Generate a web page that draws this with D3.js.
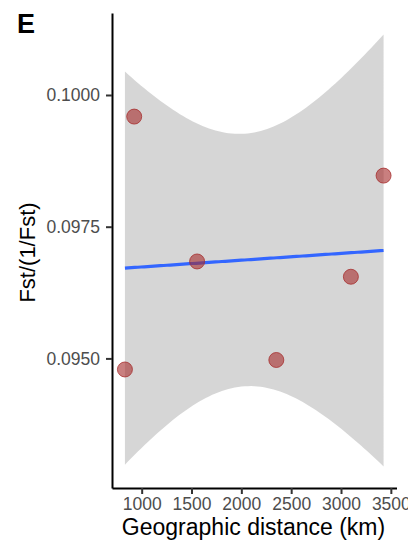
<!DOCTYPE html>
<html>
<head>
<meta charset="utf-8">
<script src="https://cdn.jsdelivr.net/npm/d3@7"></script>
<style>
  html, body { margin: 0; padding: 0; background: #fff; }
  svg { display: block; overflow: hidden; }
  text { font-family: "Liberation Sans", Arial, Helvetica, sans-serif; }
</style>
</head>
<body>
<svg id="chart" width="408" height="548"></svg>
<script>
// Geographic distance (km) between population pairs and their Fst/(1/Fst)
const distanceKm = [832, 925, 1556, 2351, 3099, 3427];
const fstRatio   = [0.09479, 0.09959, 0.09684, 0.09497, 0.09655, 0.09847];

const xTicks = [1000, 1500, 2000, 2500, 3000, 3500];
const yTicks = [0.0950, 0.0975, 0.1000];

const panelLabel = "E";
const xTitle = "Geographic distance (km)";
const yTitle = "Fst/(1/Fst)";

// 95% t critical value for n - 2 = 4 degrees of freedom
const tCrit = 2.776445;

// Ordinary least squares fit with confidence band for the mean
const n = distanceKm.length;
const mx = d3.mean(distanceKm), my = d3.mean(fstRatio);
const sxx = d3.sum(distanceKm, v => (v - mx) ** 2);
const sxy = d3.sum(distanceKm, (v, i) => (v - mx) * (fstRatio[i] - my));
const slope = sxy / sxx;
const intercept = my - slope * mx;
const predict = v => intercept + slope * v;
const sse = d3.sum(distanceKm, (v, i) => (fstRatio[i] - predict(v)) ** 2);
const sigma = Math.sqrt(sse / (n - 2));

const [xMin, xMax] = d3.extent(distanceKm);
const fit = d3.range(0, 81).map(k => {
  const xv = xMin + (xMax - xMin) * k / 80;
  const se = sigma * Math.sqrt(1 / n + (xv - mx) ** 2 / sxx);
  const yv = predict(xv);
  return { x: xv, y: yv, lo: yv - tCrit * se, hi: yv + tCrit * se };
});

// Domains padded by 5% on each side
const pad = ([a, b]) => { const r = b - a; return [a - 0.05 * r, b + 0.05 * r]; };
const yExt = [d3.min([...fit.map(d => d.lo), ...fstRatio]), d3.max([...fit.map(d => d.hi), ...fstRatio])];

const plot = { left: 112, right: 396.5, top: 13, bottom: 488 };

const x = d3.scaleLinear().domain(pad([xMin, xMax])).range([plot.left, plot.right]);
const y = d3.scaleLinear().domain(pad(yExt)).range([plot.bottom, plot.top]);

const svg = d3.select("#chart");

// confidence band
svg.append("path")
  .datum(fit)
  .attr("fill", "#999999")
  .attr("fill-opacity", 0.4)
  .attr("d", d3.area().x(d => x(d.x)).y0(d => y(d.lo)).y1(d => y(d.hi)));

// regression line
svg.append("path")
  .datum(fit)
  .attr("fill", "none")
  .attr("stroke", "#3366FF")
  .attr("stroke-width", 3.2)
  .attr("d", d3.line().x(d => x(d.x)).y(d => y(d.y)));

// points
svg.append("g")
  .selectAll("circle")
  .data(distanceKm.map((d, i) => ({ d, v: fstRatio[i] })))
  .join("circle")
  .attr("cx", p => x(p.d))
  .attr("cy", p => y(p.v))
  .attr("r", 7.5)
  .attr("fill", "#A52A2A")
  .attr("fill-opacity", 0.6)
  .attr("stroke", "#A52A2A")
  .attr("stroke-opacity", 0.75)
  .attr("stroke-width", 1);

// axes
const xAxis = svg.append("g")
  .attr("transform", `translate(0,${plot.bottom})`)
  .call(d3.axisBottom(x).tickValues(xTicks).tickFormat(d3.format("d")).tickSize(6).tickSizeOuter(0).tickPadding(4));
const yAxis = svg.append("g")
  .attr("transform", `translate(${plot.left},0)`)
  .call(d3.axisLeft(y).tickValues(yTicks).tickFormat(d3.format(".4f")).tickSize(6).tickSizeOuter(0).tickPadding(6));

[xAxis, yAxis].forEach(g => {
  g.select(".domain").attr("stroke", "#000").attr("stroke-width", 2);
  g.selectAll(".tick line").attr("stroke", "#333").attr("stroke-width", 2);
  g.selectAll(".tick text").attr("fill", "#4D4D4D").style("font-size", "17.5px");
});

// titles
svg.append("text")
  .attr("x", 253.5)
  .attr("y", 535)
  .attr("text-anchor", "middle")
  .style("font-size", "23px")
  .attr("fill", "#000")
  .text(xTitle);

svg.append("text")
  .attr("transform", `translate(35,${(plot.top + plot.bottom) / 2 + 2}) rotate(-90)`)
  .attr("text-anchor", "middle")
  .style("font-size", "22px")
  .attr("fill", "#000")
  .text(yTitle);

svg.append("text")
  .attr("x", 17)
  .attr("y", 33)
  .style("font-size", "27px")
  .style("font-weight", "bold")
  .attr("fill", "#000")
  .text(panelLabel);
</script>
</body>
</html>
